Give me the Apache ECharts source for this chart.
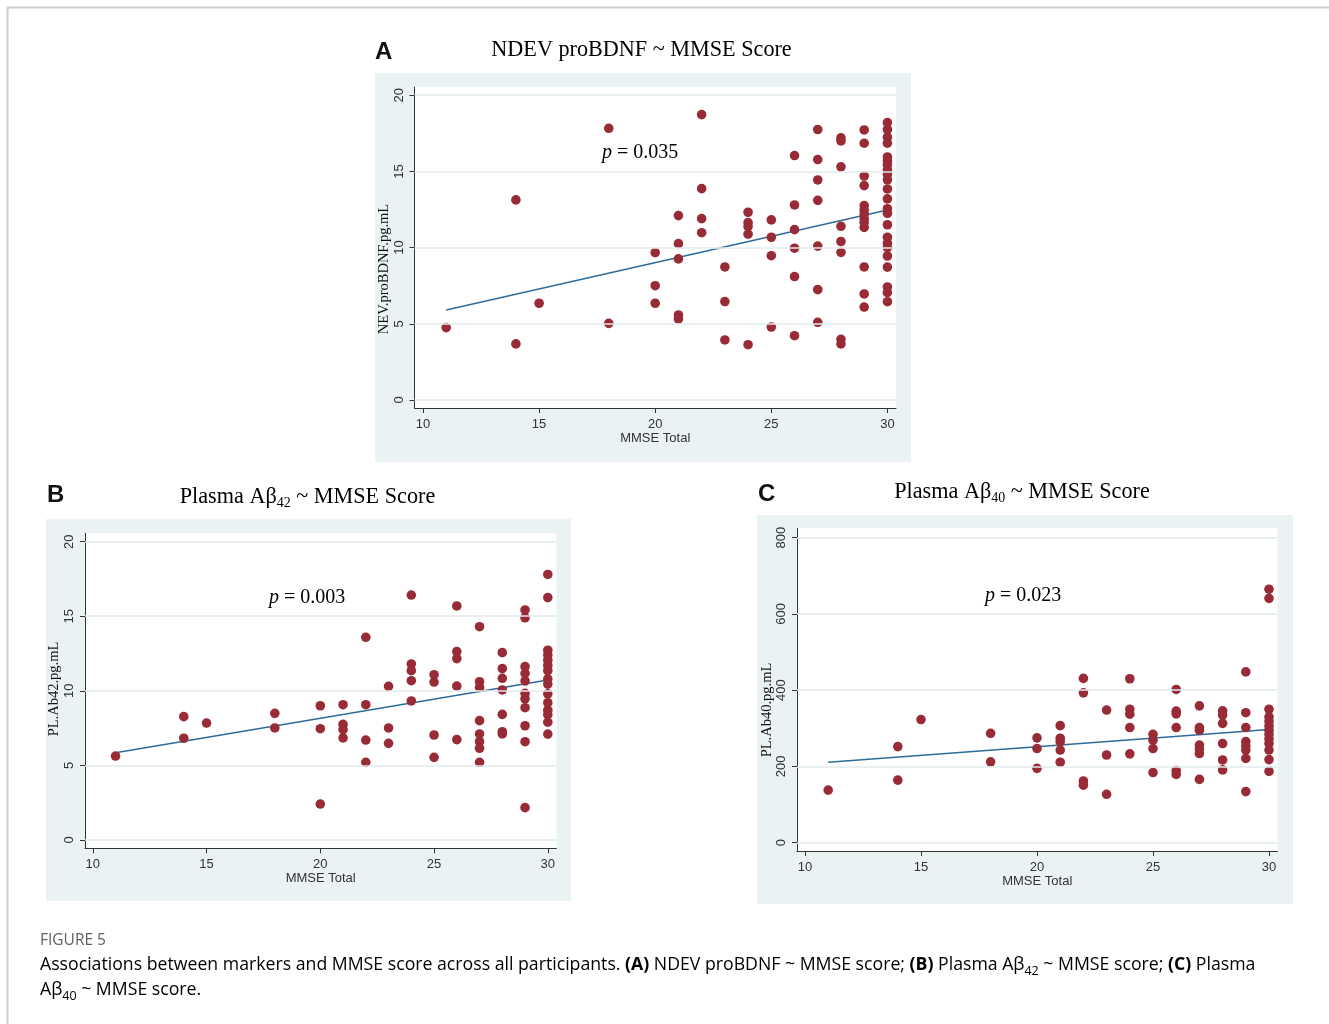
<!DOCTYPE html>
<html><head><meta charset="utf-8">
<script src="https://cdn.jsdelivr.net/npm/echarts@6/dist/echarts.min.js"></script>
<style>html,body{margin:0;padding:0;background:#fff}#c{width:1329px;height:1024px}</style>
</head><body><div id="c"></div>
<script>
// ---------- tick labels ----------
const xTicks = [10, 15, 20, 25, 30];
const yTicksA = [0, 5, 10, 15, 20];
const yTicksB = [0, 5, 10, 15, 20];
const yTicksC = [0, 200, 400, 600, 800];

// ---------- Panel A: NDEV proBDNF vs MMSE ----------
const mmseA = [11,14,14,15,18,18,20,20,20,21,21,21,21,21,22,22,22,22,23,23,23,24,24,24,24,24,25,25,25,25,
  26,26,26,26,26,26,27,27,27,27,27,27,27,28,28,28,28,28,28,28,28,
  29,29,29,29,29,29,29,29,29,29,29,29,29,
  30,30,30,30,30,30,30,30,30,30,30,30,30,30,30,30,30,30,30,30,30,30,30];
const proBDNF = [4.75,13.13,3.68,6.35,17.83,5.03,9.67,7.5,6.35,12.1,10.26,9.26,5.58,5.32,18.73,13.87,11.9,10.98,8.73,6.46,3.94,
  12.32,11.64,11.38,10.88,3.63,11.82,10.68,9.47,4.79,
  16.04,12.8,11.18,9.96,8.1,4.22,17.75,15.78,14.44,13.1,10.1,7.24,5.1,17.2,17.0,15.3,11.4,10.4,9.69,3.98,3.68,
  17.72,16.85,14.7,14.07,12.76,12.47,12.2,11.9,11.64,11.33,8.73,6.96,6.1,
  18.2,17.75,17.25,16.85,15.95,15.7,15.45,15.1,14.8,14.45,13.85,13.2,12.55,12.25,11.5,10.68,10.3,10.0,9.45,8.72,7.42,7.05,6.45];
const fitX = [11, 30];
const fitA = [5.9, 12.47];

// ---------- Panel B: Plasma Ab42 vs MMSE ----------
const mmseB = [11,14,14,15,18,18,20,20,20,21,21,21,21,22,22,22,22,23,23,23,24,24,24,24,24,25,25,25,25,
  26,26,26,26,26,27,27,27,27,27,27,27,27,28,28,28,28,28,28,28,
  29,29,29,29,29,29,29,29,29,29,29,
  30,30,30,30,30,30,30,30,30,30,30,30,30,30,30];
const ab42 = [5.63,8.27,6.82,7.84,8.49,7.51,9.0,7.46,2.41,9.07,7.75,7.4,6.84,13.59,9.07,6.7,5.21,10.3,7.51,6.48,
  16.42,11.8,11.35,10.68,9.32,11.08,10.59,7.04,5.54,
  15.69,12.63,12.16,10.32,6.73,14.3,10.61,10.23,8.0,7.11,6.59,6.15,5.21,12.56,11.49,10.84,10.06,8.42,7.26,7.11,
  15.42,14.9,11.62,11.17,10.66,9.83,9.47,8.87,7.66,6.59,2.17,
  17.8,16.25,12.72,12.4,12.05,11.7,11.35,10.8,10.45,9.8,9.2,8.7,8.4,7.9,7.1];
const fitB = [5.85, 10.73];

// ---------- Panel C: Plasma Ab40 vs MMSE ----------
const mmseC = [11,14,14,15,18,18,20,20,20,21,21,21,21,21,22,22,22,22,23,23,23,24,24,24,24,24,25,25,25,25,
  26,26,26,26,26,26,27,27,27,27,27,27,27,28,28,28,28,28,28,
  29,29,29,29,29,29,29,29,
  30,30,30,30,30,30,30,30,30,30,30,30,30];
const ab40 = [138,252,164,323,287,212,275,247,195,307,274,265,243,211,431,393,162,151,348,230,127,
  430,350,337,302,233,284,269,247,184,
  402,345,338,302,189,179,359,302,295,256,246,234,166,346,335,313,260,217,191,
  448,341,302,265,254,243,221,134,
  665,641,350,330,318,306,295,284,272,260,243,218,187];
const fitC = [211, 297];

// ---------- styling ----------
const DOT = '#992B36';
const FIT = '#2D6C9A';
const BG = '#EAF2F3';
const GRIDLINE = '#E2EBED';
const AXIS = '#333333';
const SERIF = '"Liberation Serif", "DejaVu Serif", serif';
const SANS = '"Liberation Sans", Arial, sans-serif';
const CAPF = '"Open Sans", "Noto Sans", sans-serif';

const grids = [
  {left: 414.5, top: 87, width: 481.5, height: 321},
  {left: 85, top: 533.3, width: 471.4, height: 315},
  {left: 797, top: 528.3, width: 480.5, height: 322.7}
];
const ranges = [
  {xmin: 9.634, xmax: 30.37, ymin: -0.525, ymax: 20.54, yt: yTicksA},
  {xmin: 9.657, xmax: 30.378, ymin: -0.556, ymax: 20.56, yt: yTicksB},
  {xmin: 9.655, xmax: 30.366, ymin: -21.8, ymax: 824.7, yt: yTicksC}
];

const xAxes = ranges.map((r, i) => ({
  type: 'value', gridIndex: i, min: r.xmin, max: r.xmax,
  axisLine: {show: true, onZero: false, lineStyle: {color: AXIS, width: 1}},
  axisTick: {show: true, inside: false, length: 5, customValues: xTicks, lineStyle: {color: AXIS}},
  axisLabel: {customValues: xTicks, margin: 10, color: '#333', fontFamily: SANS, fontSize: 13},
  splitLine: {show: false},
  name: 'MMSE Total', nameLocation: 'middle', nameGap: 23,
  nameTextStyle: {color: '#333', fontFamily: SANS, fontSize: 13}
}));
const yAxes = ranges.map((r, i) => ({
  type: 'value', gridIndex: i, min: r.ymin, max: r.ymax,
  axisLine: {show: true, onZero: false, lineStyle: {color: AXIS, width: 1}},
  axisTick: {show: true, inside: false, length: 5, customValues: r.yt, lineStyle: {color: AXIS}},
  axisLabel: {customValues: r.yt, margin: 9, rotate: 90, color: '#333', fontFamily: SANS, fontSize: 13},
  splitLine: {show: false}
}));

const scatterSets = [[mmseA, proBDNF], [mmseB, ab42], [mmseC, ab40]];
const fitSets = [fitA, fitB, fitC];
const series = [];
scatterSets.forEach((s, i) => {
  series.push({
    type: 'line', xAxisIndex: i, yAxisIndex: i, z: 2,
    data: fitX.map((x, k) => [x, fitSets[i][k]]),
    symbol: 'none', lineStyle: {color: FIT, width: 1.5}, silent: true, animation: false,
    markLine: {
      silent: true, symbol: 'none', animation: false,
      label: {show: false},
      lineStyle: {color: GRIDLINE, width: 1.6, type: 'solid'},
      data: ranges[i].yt.map(v => ({yAxis: v}))
    }
  });
  series.push({
    type: 'scatter', xAxisIndex: i, yAxisIndex: i, z: 3,
    data: s[0].map((x, k) => [x, s[1][k]]),
    symbol: 'circle', symbolSize: 9.6, itemStyle: {color: DOT, opacity: 1}, animation: false
  });
});

function rect(x1, y1, x2, y2) {
  return {type: 'rect', z: -100, silent: true, shape: {x: x1, y: y1, width: x2 - x1, height: y2 - y1}, style: {fill: BG}};
}
function txt(x, y, text, rich, extra) {
  return Object.assign({type: 'text', x: x, y: y, silent: true, z: 50,
    style: {text: text, rich: rich, align: 'center', verticalAlign: 'middle', textAlign: 'center', textVerticalAlign: 'middle'}}, extra || {});
}
const titleRich = {
  t: {fontFamily: SERIF, fontSize: 22.2, lineHeight: 26, color: '#111', verticalAlign: 'middle'},
  s: {fontFamily: SERIF, fontSize: 14, lineHeight: 26, color: '#111', verticalAlign: 'bottom'}
};
const pRich = {
  i: {fontFamily: SERIF, fontSize: 20, fontStyle: 'italic', color: '#111'},
  n: {fontFamily: SERIF, fontSize: 20, color: '#111'}
};
const letterStyle = (t) => ({fontFamily: SANS, fontSize: 24, fontWeight: 'bold', fill: '#111', text: t, align: 'left', verticalAlign: 'middle'});
const ynameStyle = (t) => ({text: t, fontFamily: SERIF, fontSize: 14.5, fill: '#111', align: 'center', verticalAlign: 'middle'});

const capRich = {
  n: {fontFamily: CAPF, fontSize: 17.7, color: '#616161'},
  b: {fontFamily: CAPF, fontSize: 17.7, color: '#616161', fontWeight: 'bold'},
  s: {fontFamily: CAPF, fontSize: 12.5, color: '#616161', verticalAlign: 'bottom', lineHeight: 25}
};

const graphics = [
  {type: 'line', silent: true, z: -50, shape: {x1: 7, y1: 7.5, x2: 1329, y2: 7.5}, style: {stroke: '#cccccc', lineWidth: 2}},
  {type: 'line', silent: true, z: -50, shape: {x1: 7.5, y1: 7, x2: 7.5, y2: 1024}, style: {stroke: '#cccccc', lineWidth: 2}},
  rect(375, 73, 911, 462),
  rect(46, 519, 571, 901),
  rect(757, 515, 1293, 904),
  // plot areas (white)
  ...grids.map(g => ({type: 'rect', z: -90, silent: true, shape: {x: g.left, y: g.top, width: g.width, height: g.height}, style: {fill: '#ffffff'}})),
  // panel letters
  {type: 'text', x: 375, y: 52, silent: true, style: letterStyle('A')},
  {type: 'text', x: 47, y: 495, silent: true, style: letterStyle('B')},
  {type: 'text', x: 758, y: 494, silent: true, style: letterStyle('C')},
  // titles
  txt(641.5, 50, '{t|NDEV proBDNF ~ MMSE Score}', titleRich),
  txt(307.5, 497, '{t|Plasma Aβ}{s|42}{t| ~ MMSE Score}', titleRich),
  txt(1022, 492, '{t|Plasma Aβ}{s|40}{t| ~ MMSE Score}', titleRich),
  // p-values
  {type: 'text', x: 602, y: 153, silent: true, z: 50, style: {text: '{i|p}{n| = 0.035}', rich: pRich, align: 'left', verticalAlign: 'middle'}},
  {type: 'text', x: 269, y: 598, silent: true, z: 50, style: {text: '{i|p}{n| = 0.003}', rich: pRich, align: 'left', verticalAlign: 'middle'}},
  {type: 'text', x: 985, y: 596, silent: true, z: 50, style: {text: '{i|p}{n| = 0.023}', rich: pRich, align: 'left', verticalAlign: 'middle'}},
  // y-axis titles
  {type: 'text', x: 384, y: 269, rotation: Math.PI / 2, silent: true, style: ynameStyle('NEV.proBDNF.pg.mL')},
  {type: 'text', x: 54.5, y: 689, rotation: Math.PI / 2, silent: true, style: ynameStyle('PL.Ab42.pg.mL')},
  {type: 'text', x: 767, y: 710, rotation: Math.PI / 2, silent: true, style: ynameStyle('PL.Ab40.pg.mL')},
  // caption
  {type: 'text', x: 40, y: 941, silent: true, style: {text: 'FIGURE 5', fontFamily: CAPF, fontSize: 15.5, fill: '#616161', align: 'left', verticalAlign: 'middle'}},
  {type: 'text', x: 40, y: 965, silent: true, style: {
    text: '{n|Associations between markers and MMSE score across all participants. }{b|(A)}{n| NDEV proBDNF ~ MMSE score; }{b|(B)}{n| Plasma Aβ}{s|42}{n| ~ MMSE score; }{b|(C)}{n| Plasma}',
    rich: capRich, align: 'left', verticalAlign: 'middle'}},
  {type: 'text', x: 40, y: 990, silent: true, style: {
    text: '{n|Aβ}{s|40}{n| ~ MMSE score.}', rich: capRich, align: 'left', verticalAlign: 'middle'}}
];

const chart = echarts.init(document.getElementById('c'), null, {renderer: 'canvas'});
chart.setOption({
  animation: false,
  backgroundColor: '#ffffff',
  grid: grids.map(g => Object.assign({show: false}, g)),
  xAxis: xAxes,
  yAxis: yAxes,
  series: series,
  graphic: {elements: graphics}
});
</script>
</body></html>
